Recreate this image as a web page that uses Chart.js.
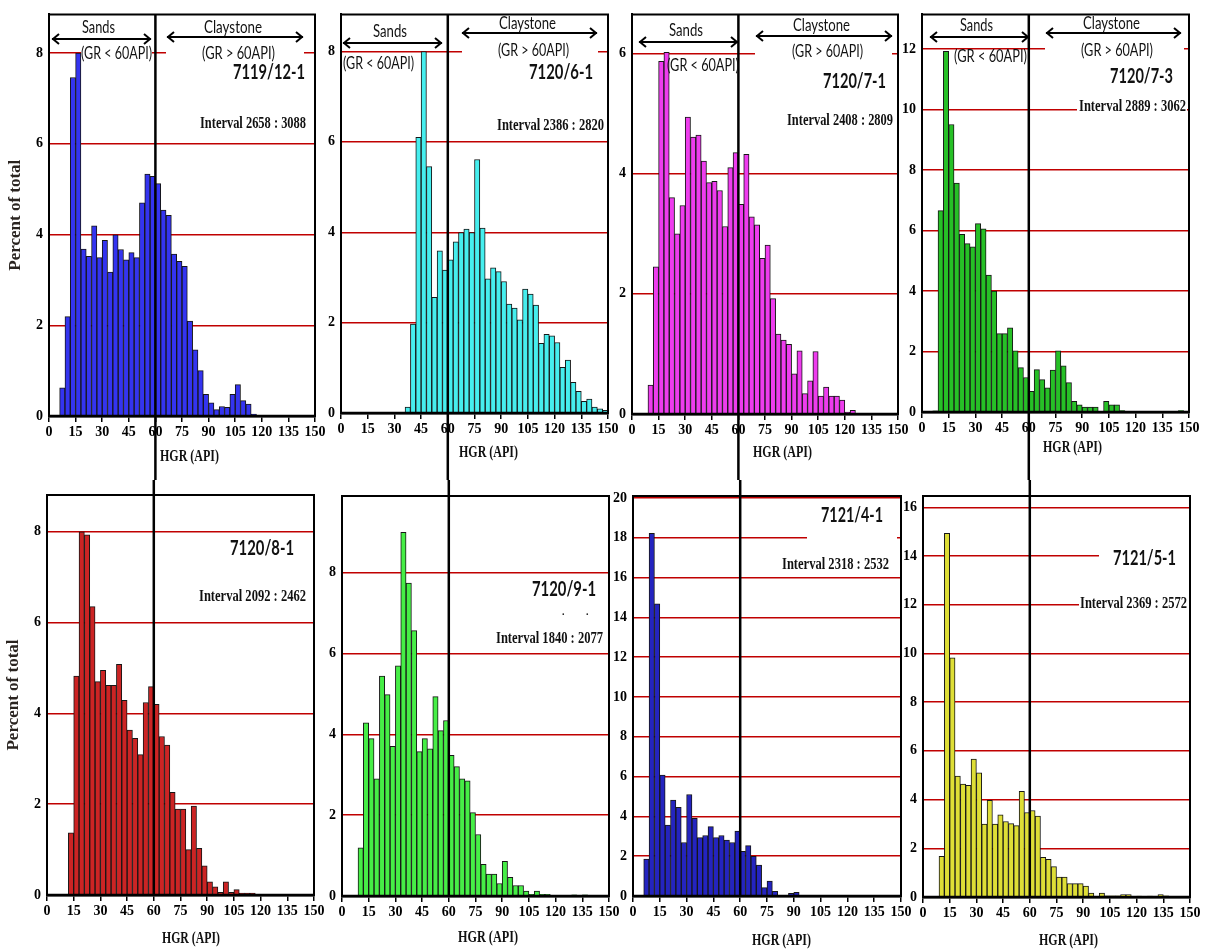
<!DOCTYPE html>
<html>
<head>
<meta charset="utf-8">
<script src="https://cdn.jsdelivr.net/npm/chart.js@4.4.1/dist/chart.umd.min.js"></script>
<style>
  html, body { margin: 0; padding: 0; background: #fff; }
  #wrap { position: relative; width: 1210px; height: 949px; overflow: hidden; }
  #wrap canvas { position: absolute; left: 0; top: 0; }
</style>
</head>
<body>
<div id="wrap"></div>
<script>
// left edge of each 3 API bin
const binStart = [0, 3, 6, 9, 12, 15, 18, 21, 24, 27, 30, 33, 36, 39, 42, 45, 48, 51, 54, 57,
  60, 63, 66, 69, 72, 75, 78, 81, 84, 87, 90, 93, 96, 99, 102, 105, 108, 111, 114, 117,
  120, 123, 126, 129, 132, 135, 138, 141, 144, 147];

// percent of total per bin, one array per well
const hgr_7119_12_1 = [0, 0, 0.62, 2.19, 7.46, 8.0, 3.68, 3.52, 4.19, 3.49, 3.87, 3.17, 3.99, 3.67,
  3.44, 3.6, 3.49, 4.7, 5.33, 5.28, 5.12, 4.54, 4.42, 3.57, 3.41, 3.3, 2.09, 1.46, 1.0, 0.48,
  0.29, 0.14, 0.21, 0.19, 0.48, 0.69, 0.34, 0.26, 0.04, 0, 0, 0, 0, 0, 0, 0, 0, 0, 0, 0];
const hgr_7120_6_1 = [0, 0, 0, 0, 0, 0, 0, 0, 0, 0, 0, 0, 0.13, 1.97, 6.1, 8.0, 5.45, 2.56, 3.59,
  3.16, 3.39, 3.79, 3.99, 4.07, 3.99, 5.61, 4.09, 2.97, 3.21, 3.13, 2.91, 2.41, 2.32, 2.06, 2.74,
  2.63, 2.39, 1.54, 1.74, 1.71, 1.56, 1.01, 1.17, 0.68, 0.48, 0.26, 0.31, 0.13, 0.09, 0.06];
const hgr_7120_7_1 = [0, 0, 0, 0.48, 2.45, 5.87, 6.02, 3.6, 3.0, 3.47, 4.94, 4.61, 4.64, 4.21, 3.85,
  3.87, 3.72, 3.12, 4.1, 4.35, 3.49, 4.32, 3.28, 3.15, 2.59, 2.81, 1.92, 1.33, 1.23, 1.16, 0.67,
  1.05, 0.34, 0.55, 1.04, 0.3, 0.45, 0.3, 0.3, 0.23, 0.03, 0.06, 0, 0, 0, 0, 0, 0, 0, 0];
const hgr_7120_7_3 = [0, 0, 0.04, 6.66, 11.93, 9.51, 7.57, 5.88, 5.57, 5.46, 6.23, 6.06, 4.53, 4.0,
  2.59, 2.59, 2.78, 2.02, 1.47, 1.14, 0.68, 1.4, 1.07, 0.8, 1.39, 2.02, 1.53, 0.97, 0.35, 0.24,
  0.16, 0.16, 0.16, 0, 0.35, 0.24, 0.24, 0.05, 0, 0, 0, 0, 0, 0, 0, 0, 0, 0, 0.05, 0];
const hgr_7120_8_1 = [0, 0, 0, 0, 1.37, 4.82, 8.0, 7.93, 6.35, 4.7, 4.95, 4.62, 4.62, 5.08, 4.29,
  3.63, 3.45, 3.09, 4.24, 4.59, 4.2, 3.49, 3.3, 2.26, 1.89, 1.89, 1.0, 1.96, 1.03, 0.64, 0.29,
  0.18, 0.06, 0.29, 0.06, 0.12, 0.04, 0.04, 0.04, 0, 0, 0, 0, 0, 0, 0, 0, 0, 0, 0];
const hgr_7120_9_1 = [0, 0, 0, 1.19, 4.28, 3.89, 2.9, 5.44, 4.98, 3.7, 5.69, 8.99, 7.74, 6.56, 3.57,
  3.89, 3.64, 4.93, 4.09, 4.34, 3.48, 3.2, 2.9, 2.85, 2.06, 1.52, 0.78, 0.54, 0.54, 0.31, 0.86,
  0.46, 0.26, 0.26, 0.12, 0.04, 0.12, 0.04, 0.04, 0, 0, 0, 0, 0.03, 0, 0.03, 0, 0, 0, 0];
const hgr_7121_4_1 = [0, 0, 1.86, 18.23, 14.68, 6.07, 3.56, 4.82, 4.46, 2.69, 5.1, 3.9, 2.93, 3.04,
  3.49, 2.93, 3.04, 2.81, 2.69, 3.26, 2.24, 2.53, 1.99, 1.56, 0.42, 0.75, 0.23, 0, 0, 0.13, 0.18,
  0, 0, 0, 0, 0, 0, 0, 0, 0, 0, 0, 0, 0, 0, 0, 0, 0, 0, 0];
const hgr_7121_5_1 = [0, 0, 0, 1.67, 14.93, 9.82, 4.96, 4.63, 4.58, 5.66, 5.1, 2.99, 3.97, 2.99,
  3.37, 3.1, 3.01, 2.93, 4.34, 3.47, 3.55, 3.32, 1.63, 1.55, 1.25, 0.82, 0.82, 0.55, 0.55, 0.55,
  0.45, 0.16, 0, 0.16, 0.05, 0.05, 0.05, 0.1, 0.1, 0, 0.04, 0, 0.04, 0, 0.1, 0.05, 0, 0, 0, 0];

const xTicks = [0, 150, 15];   // min, max, step
const sandCut = 60;             // GR cut-off between sands and claystone

const SERIF = '"Liberation Serif", "Times New Roman", serif';
const SANS = 'Lato, "Liberation Sans", sans-serif';
const fonts = {
  label: '17px ' + SANS,
  well: 'bold 20px ' + SANS,
  interval: 'bold 17px ' + SERIF,
  axis: 'bold 16px ' + SERIF,
  dot: 'bold 10px ' + SERIF,
};

// panel layout: area = [left, top, right, bottom] of the plot box on the page
const panels = [
  { values: hgr_7119_12_1, color: '#3434f0', yMax: 8.85, area: [49, 14, 315, 416], row: 0, yTitle: true,
    boxes: [[81, 44, 152, 63], [166, 15, 304, 63]],
    arrows: [[52, 151, 39], [167, 303, 37]],
    texts: [['label', 'Sands', 82, 115, 33], ['label', 'Claystone', 204, 262, 33],
      ['label', '(GR < 60API)', 81, 152, 59], ['label', '(GR > 60API)', 202, 275, 59],
      ['well', '7119/12-1', 233, 305, 79], ['interval', 'Interval 2658 : 3088', 200, 306, 128],
      ['axis', 'HGR (API)', 160, 219, 461]] },
  { values: hgr_7120_6_1, color: '#46eeee', yMax: 8.82, area: [341, 13, 608, 413], row: 0,
    boxes: [[462, 14, 598, 60]],
    arrows: [[343, 442, 43], [462, 597, 33]],
    texts: [['label', 'Sands', 373, 407, 37], ['label', 'Claystone', 499, 556, 29],
      ['label', '(GR < 60API)', 343, 414, 69], ['label', '(GR > 60API)', 498, 569, 56],
      ['well', '7120/6-1', 529, 593, 79], ['interval', 'Interval 2386 : 2820', 497, 604, 130],
      ['axis', 'HGR (API)', 459, 518, 457]] },
  { values: hgr_7120_7_1, color: '#ee3cee', yMax: 6.65, area: [632, 13, 898, 414], row: 0,
    boxes: [[755, 14, 892, 60]],
    arrows: [[639, 738, 42], [756, 892, 36]],
    texts: [['label', 'Sands', 669, 703, 36], ['label', 'Claystone', 793, 850, 31],
      ['label', '(GR < 60API)', 667, 739, 71], ['label', '(GR > 60API)', 792, 863, 57],
      ['well', '7120/7-1', 823, 886, 88], ['interval', 'Interval 2408 : 2809', 787, 893, 125],
      ['axis', 'HGR (API)', 753, 812, 457]] },
  { values: hgr_7120_7_3, color: '#26c026', yMax: 13.15, area: [922, 12, 1189, 412], row: 0,
    boxes: [[1045, 13, 1184, 59], [1077, 99, 1187, 115]],
    arrows: [[930, 1029, 37], [1046, 1181, 33]],
    texts: [['label', 'Sands', 960, 993, 31], ['label', 'Claystone', 1083, 1140, 29],
      ['label', '(GR < 60API)', 954, 1027, 62], ['label', '(GR > 60API)', 1081, 1153, 56],
      ['well', '7120/7-3', 1110, 1173, 83], ['interval', 'Interval 2889 : 3062', 1079, 1186, 111],
      ['axis', 'HGR (API)', 1043, 1102, 452]] },
  { values: hgr_7120_8_1, color: '#cc2424', yMax: 8.81, area: [47, 495, 314, 895], row: 1, yTitle: true,
    boxes: [], arrows: [],
    texts: [['well', '7120/8-1', 230, 294, 555], ['interval', 'Interval 2092 : 2462', 199, 306, 601],
      ['axis', 'HGR (API)', 162, 220, 943]] },
  { values: hgr_7120_9_1, color: '#46ee46', yMax: 9.89, area: [342, 496, 609, 896], row: 1,
    boxes: [], arrows: [],
    texts: [['well', '7120/9-1', 532, 596, 596], ['interval', 'Interval 1840 : 2077', 496, 603, 643],
      ['dot', '.', 562, null, 615], ['dot', '.', 586, null, 615],
      ['axis', 'HGR (API)', 458, 518, 942]] },
  { values: hgr_7121_4_1, color: '#2424c0', yMax: 20.1, area: [633, 496, 901, 896], row: 1,
    boxes: [[807, 501, 897, 545]], arrows: [],
    texts: [['well', '7121/4-1', 821, 883, 522], ['interval', 'Interval 2318 : 2532', 782, 889, 569],
      ['axis', 'HGR (API)', 752, 811, 945]] },
  { values: hgr_7121_5_1, color: '#dede36', yMax: 16.46, area: [923, 496, 1190, 897], row: 1,
    boxes: [[1099, 540, 1190, 575], [1079, 595, 1190, 616]], arrows: [],
    texts: [['well', '7121/5-1', 1113, 1176, 565], ['interval', 'Interval 2369 : 2572', 1080, 1187, 608],
      ['axis', 'HGR (API)', 1039, 1098, 945]] },
];

const ROW_SPLIT = 480;
const wrap = document.getElementById('wrap');

function fitText(ctx, kind, text, x0, x1, y) {
  ctx.save();
  ctx.font = fonts[kind];
  ctx.fillStyle = '#111';
  ctx.textAlign = 'left';
  ctx.textBaseline = 'alphabetic';
  ctx.translate(x0, y);
  if (x1 != null) {
    const w = ctx.measureText(text).width;
    ctx.scale((x1 - x0) / w, 1);
  }
  ctx.fillText(text, 0, 0);
  ctx.restore();
}

function dblArrow(ctx, x0, x1, y) {
  ctx.save();
  ctx.strokeStyle = '#000';
  ctx.lineWidth = 2;
  ctx.beginPath();
  ctx.moveTo(x0, y); ctx.lineTo(x1, y);
  ctx.moveTo(x0 + 7, y - 5); ctx.lineTo(x0 + 1, y); ctx.lineTo(x0 + 7, y + 5);
  ctx.moveTo(x1 - 7, y - 5); ctx.lineTo(x1 - 1, y); ctx.lineTo(x1 - 7, y + 5);
  ctx.stroke();
  ctx.restore();
}

function makeChart(p) {
  const canvas = document.createElement('canvas');
  canvas.width = 1210;
  canvas.height = 949;
  wrap.appendChild(canvas);
  const [L, T, R, B] = p.area;
  const yW = 44, xH = 40;

  const decor = {
    id: 'decor',
    beforeDatasetsDraw(chart) {
      const ctx = chart.ctx;
      ctx.save();
      ctx.fillStyle = '#fff';
      p.boxes.forEach(b => ctx.fillRect(b[0], b[1], b[2] - b[0], b[3] - b[1]));
      ctx.restore();
    },
    afterDatasetsDraw(chart) {
      const ctx = chart.ctx;
      const a = chart.chartArea;
      ctx.save();
      ctx.strokeStyle = '#000';
      ctx.lineWidth = 2;
      ctx.beginPath();
      ctx.moveTo(a.left, a.bottom); ctx.lineTo(a.left, a.top);
      ctx.lineTo(a.right, a.top); ctx.lineTo(a.right, a.bottom);
      ctx.stroke();
      ctx.lineWidth = 2.5;
      ctx.beginPath();
      ctx.moveTo(a.left - 1, a.bottom); ctx.lineTo(a.right + 1, a.bottom);
      ctx.stroke();
      // sands / claystone cut-off
      const xc = chart.scales.x.getPixelForValue(sandCut);
      ctx.beginPath();
      if (p.row === 0) { ctx.moveTo(xc, a.top); ctx.lineTo(xc, ROW_SPLIT); }
      else { ctx.moveTo(xc, ROW_SPLIT); ctx.lineTo(xc, a.bottom); }
      ctx.stroke();
      ctx.restore();
      p.arrows.forEach(r => dblArrow(ctx, r[0], r[1], r[2]));
      p.texts.forEach(t => fitText(ctx, t[0], t[1], t[2], t[3], t[4]));
    }
  };

  new Chart(canvas, {
    type: 'bar',
    data: {
      datasets: [{
        data: binStart.map((s, i) => ({ x: s + 1.5, y: p.values[i] })),
        backgroundColor: p.color,
        borderColor: '#161616',
        borderWidth: 1,
        borderSkipped: 'start',
        barPercentage: 1,
        categoryPercentage: 1,
      }],
    },
    options: {
      responsive: false,
      animation: false,
      devicePixelRatio: 1,
      layout: { padding: { left: L - yW, top: T, right: 1210 - R, bottom: 949 - B - xH } },
      plugins: { legend: { display: false }, tooltip: { enabled: false } },
      scales: {
        x: {
          type: 'linear',
          min: xTicks[0],
          max: xTicks[1],
          offset: false,
          ticks: {
            stepSize: xTicks[2], autoSkip: false, maxRotation: 0, padding: 2, color: '#000',
            font: { family: SERIF, size: 14, weight: 'bold' },
          },
          grid: { offset: false, drawOnChartArea: false, drawTicks: true, tickLength: 6, color: '#000', lineWidth: 1.5 },
          border: { color: '#000', width: 2.5 },
          afterFit: (s) => { s.height = xH; },
        },
        y: {
          min: 0,
          max: p.yMax,
          ticks: {
            stepSize: 2, includeBounds: false, padding: 6, color: '#000',
            font: { family: SERIF, size: 14, weight: 'bold' },
          },
          grid: {
            drawTicks: false,
            lineWidth: 1.4,
            color: (c) => (c.tick && c.tick.value === 0 ? 'rgba(0,0,0,0)' : '#c00000'),
          },
          border: { color: '#000', width: 2 },
          title: {
            display: !!p.yTitle,
            text: 'Percent of total',
            color: '#2a2420',
            padding: 0,
            font: { family: SERIF, size: 17, weight: 'bold' },
          },
          afterFit: (s) => { s.width = yW; },
        },
      },
    },
    plugins: [decor],
  });
}

panels.forEach(makeChart);
</script>
</body>
</html>
